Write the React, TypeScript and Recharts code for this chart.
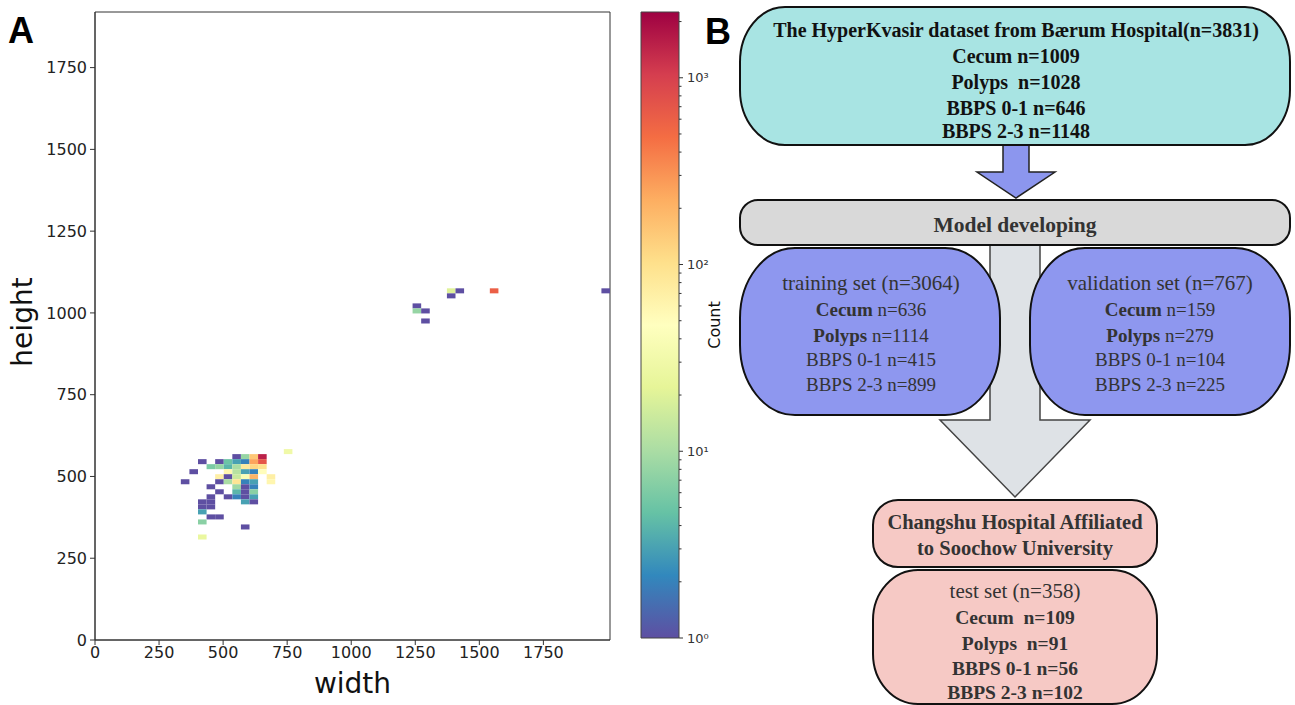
import React from 'react';
import { ScatterChart, Scatter, XAxis, YAxis, BarChart, Bar, ReferenceArea } from 'recharts';

const X_TICKS = [0, 250, 500, 750, 1000, 1250, 1500, 1750];
const Y_TICKS = [0, 250, 500, 750, 1000, 1250, 1500, 1750];
const X_MAX = 2010;
const Y_MAX = 1920;
const BIN_W = 33.5;
const BIN_H = 15.36;
const COUNT_MAX = 2250;

// hist2d cells: bin column, bin row, count
const cellCol = [
  41, 42, 41, 46, 59, 37, 37, 38, 38,
  22, 12, 11, 10,
  16, 17, 18, 19,
  14, 15, 16, 17, 18, 19,
  13, 14, 15, 16, 17, 18, 19,
  15, 16, 17, 18, 19,
  14, 15, 16, 17, 18, 20,
  14, 15, 16, 17, 18, 20,
  13, 16, 17, 18,
  14, 16, 17, 18,
  13, 15, 16, 17, 18,
  12, 13, 17, 18,
  12, 13, 12, 13, 14, 12, 17, 12,
];
const cellRow = [
  69, 69, 68, 69, 69, 66, 65, 65, 63,
  37, 35, 33, 31,
  36, 36, 36, 36,
  35, 35, 35, 35, 35, 35,
  34, 34, 34, 34, 34, 34, 34,
  33, 33, 33, 33, 33,
  32, 32, 32, 32, 32, 32,
  31, 31, 31, 31, 31, 31,
  30, 30, 30, 30,
  29, 29, 29, 29,
  28, 28, 28, 28, 28,
  27, 27, 27, 27,
  26, 26, 25, 24, 24, 23, 22, 20,
];
const cellCount = [
  20, 1, 1, 600, 1, 1, 8, 1, 1,
  30, 1, 1, 1,
  1, 8, 150, 1500,
  1, 5, 3, 2, 250, 700,
  6, 8, 4, 10, 80, 120, 100,
  60, 12, 3, 2, 50,
  70, 1, 15, 40, 200, 70,
  1, 10, 90, 2, 3, 60,
  1, 9, 1, 2,
  1, 4, 1, 7,
  1, 1, 2, 1, 3,
  1, 1, 3, 1,
  1, 1, 3, 1, 1, 7, 1, 25,
];

// colour bar, in log10(count) units
const CB_TOP = Math.log10(COUNT_MAX);
const CB_MAJOR_COUNTS = [1, 10, 100, 1000];
const CB_MINOR_COUNTS = [2, 3, 4, 5, 6, 7, 8, 9, 20, 30, 40, 50, 60, 70, 80, 90, 200, 300, 400, 500, 600, 700, 800, 900, 2000];
const CB_TICKS = [...CB_MAJOR_COUNTS, ...CB_MINOR_COUNTS].map((c) => Math.log10(c)).sort((a, b) => a - b);
const SUP = ['⁰', '¹', '²', '³'];
const cbData = [{ name: 'Count', v: CB_TOP }];

const SPECTRAL_R = ['#5e4fa2', '#3288bd', '#66c2a5', '#abdda4', '#e6f598', '#ffffbf', '#fee08b', '#fdae61', '#f46d43', '#d53e4f', '#9e0142'];

const cells = cellCol.map((c, i) => ({
  w: (c + 0.5) * BIN_W,
  h: (cellRow[i] + 0.5) * BIN_H,
  count: cellCount[i],
}));

function hexToRgb(h: string) {
  return [parseInt(h.slice(1, 3), 16), parseInt(h.slice(3, 5), 16), parseInt(h.slice(5, 7), 16)];
}

function colorFor(count: number) {
  const t = Math.min(1, Math.log10(count) / CB_TOP);
  const p = t * (SPECTRAL_R.length - 1);
  const i = Math.min(SPECTRAL_R.length - 2, Math.floor(p));
  const f = p - i;
  const a = hexToRgb(SPECTRAL_R[i]);
  const b = hexToRgb(SPECTRAL_R[i + 1]);
  const m = a.map((v, k) => Math.round(v + (b[k] - v) * f));
  return `rgb(${m[0]},${m[1]},${m[2]})`;
}

const PLOT_W = 515;
const PLOT_H = 628;
const CELL_PX_W = (BIN_W * PLOT_W) / X_MAX;
const CELL_PX_H = (BIN_H * PLOT_H) / Y_MAX;

const SANS = 'DejaVu Sans, sans-serif';
const SERIF = "'Liberation Serif', 'Times New Roman', serif";
const AX = '#333';

const CellShape = (p: any) => (
  <rect
    x={p.cx - CELL_PX_W / 2}
    y={p.cy - CELL_PX_H / 2}
    width={CELL_PX_W}
    height={CELL_PX_H}
    fill={colorFor(p.payload.count)}
  />
);

// log colour bar tick: long mark + label on decades, short mark otherwise
const CbTick = (p: any) => {
  const v = p.payload.value;
  const major = Math.abs(v - Math.round(v)) < 1e-6;
  return (
    <g>
      <line x1={p.x} x2={p.x + (major ? 4 : 2.5)} y1={p.y} y2={p.y} stroke={AX} strokeWidth={1} />
      {major && (
        <text x={p.x + 8} y={p.y} dominantBaseline="central" fontSize={13} fill="#333" fontFamily={SANS}>
          {`10${SUP[Math.round(v)]}`}
        </text>
      )}
    </g>
  );
};

function Heatmap() {
  return (
    <ScatterChart width={630} height={705} margin={{ top: 12, right: 20, bottom: 0, left: 0 }}>
      <XAxis
        dataKey="w"
        type="number"
        domain={[0, X_MAX]}
        ticks={X_TICKS}
        height={65}
        tickSize={5}
        tickMargin={2}
        tick={{ fontSize: 16, fill: '#222', fontFamily: SANS }}
        stroke={AX}
        label={{ value: 'width', position: 'insideBottom', offset: 12, fontSize: 28, fill: '#111', fontFamily: SANS }}
      />
      <YAxis
        dataKey="h"
        type="number"
        domain={[0, Y_MAX]}
        ticks={Y_TICKS}
        width={95}
        tickSize={5}
        tickMargin={3}
        tick={{ fontSize: 16, fill: '#222', fontFamily: SANS }}
        stroke={AX}
        label={{
          content: () => (
            <text x={22} y={322} transform="rotate(-90 22 322)" textAnchor="middle" dominantBaseline="central" fontSize={28} fill="#111" fontFamily={SANS}>
              height
            </text>
          ),
        }}
      />
      <Scatter data={cells} shape={CellShape} isAnimationActive={false} />
      <ReferenceArea x1={0} x2={X_MAX} y1={0} y2={Y_MAX} fill="none" fillOpacity={0} stroke={AX} strokeWidth={1} />
    </ScatterChart>
  );
}

function ColorBar() {
  return (
    <BarChart width={110} height={705} data={cbData} margin={{ top: 12, right: 0, bottom: 67, left: 11 }} barCategoryGap={0}>
      <defs>
        <linearGradient id="spectral" x1="0" y1="1" x2="0" y2="0">
          {SPECTRAL_R.map((c, i) => (
            <stop key={c} offset={`${(i / (SPECTRAL_R.length - 1)) * 100}%`} stopColor={c} />
          ))}
        </linearGradient>
      </defs>
      <XAxis dataKey="name" hide />
      <YAxis
        orientation="right"
        type="number"
        domain={[0, CB_TOP]}
        ticks={CB_TICKS}
        interval={0}
        width={61}
        tickSize={0}
        tickMargin={0}
        tickLine={false}
        axisLine={false}
        tick={CbTick}
        label={{
          content: () => (
            <text x={84} y={325} transform="rotate(-90 84 325)" textAnchor="middle" dominantBaseline="central" fontSize={16} fill="#111" fontFamily={SANS}>
              Count
            </text>
          ),
        }}
      />
      <Bar dataKey="v" fill="url(#spectral)" stroke="#444" strokeWidth={1} isAnimationActive={false} />
    </BarChart>
  );
}

type Seg = { t: string; b?: boolean; s?: number };

const topLines: Seg[][] = [
  [{ t: 'The HyperKvasir dataset from Bærum Hospital(n=3831)', b: true }],
  [{ t: 'Cecum n=1009', b: true }],
  [{ t: 'Polyps  n=1028', b: true }],
  [{ t: 'BBPS 0-1 n=646', b: true }],
  [{ t: 'BBPS 2-3 n=1148', b: true }],
];
const trainLines: Seg[][] = [
  [{ t: 'training set (n=3064)', s: 21 }],
  [{ t: 'Cecum', b: true }, { t: ' n=636' }],
  [{ t: 'Polyps', b: true }, { t: ' n=1114' }],
  [{ t: 'BBPS 0-1 n=415' }],
  [{ t: 'BBPS 2-3 n=899' }],
];
const valLines: Seg[][] = [
  [{ t: 'validation set (n=767)', s: 21 }],
  [{ t: 'Cecum', b: true }, { t: ' n=159' }],
  [{ t: 'Polyps', b: true }, { t: ' n=279' }],
  [{ t: 'BBPS 0-1 n=104' }],
  [{ t: 'BBPS 2-3 n=225' }],
];
const hospLines: Seg[][] = [
  [{ t: 'Changshu Hospital Affiliated', b: true }],
  [{ t: 'to Soochow University', b: true }],
];
const testLines: Seg[][] = [
  [{ t: 'test set (n=358)', s: 21 }],
  [{ t: 'Cecum  n=109', b: true }],
  [{ t: 'Polyps  n=91', b: true }],
  [{ t: 'BBPS 0-1 n=56', b: true }],
  [{ t: 'BBPS 2-3 n=102', b: true }],
];

function Lines({ lines, cx, ys, color, size }: { lines: Seg[][]; cx: number; ys: number[]; color: string; size: number }) {
  return (
    <>
      {lines.map((segs, i) => {
        const fs = segs[0].s ?? size;
        return (
          <text key={i} x={cx} y={ys[i] + fs * 0.35} textAnchor="middle" fontSize={fs} fill={color} fontFamily={SERIF} style={{ whiteSpace: 'pre' }}>
            {segs.map((s, k) => (
              <tspan key={k} fontWeight={s.b ? 'bold' : 'normal'}>
                {s.t}
              </tspan>
            ))}
          </text>
        );
      })}
    </>
  );
}

function Flow() {
  return (
    <svg width={1295} height={705} style={{ position: 'absolute', left: 0, top: 0 }}>
      <text x={8} y={43} fontSize={36} fontWeight="bold" fontFamily="'Liberation Sans', Arial, sans-serif" fill="#000">A</text>
      <text x={705} y={44} fontSize={36} fontWeight="bold" fontFamily="'Liberation Sans', Arial, sans-serif" fill="#000">B</text>

      <polygon points="1003,140 1029,140 1029,172 1055,172 1016,198 977,172 1003,172" fill="#8c96ee" stroke="#222" strokeWidth={1.5} />
      <rect x={740} y={7} width={550} height={138} rx={45} ry={55} fill="#a8e4e3" stroke="#111" strokeWidth={2} />
      <Lines lines={topLines} cx={1016} ys={[30, 56, 82, 108, 131]} color="#111" size={20} />

      <polygon points="990,240 1040,240 1040,420 1090,420 1015,497 940,420 990,420" fill="#dee2e6" stroke="#444" strokeWidth={1.5} />
      <rect x={740} y={200} width={550} height={45} rx={18} ry={18} fill="#d9d9d9" stroke="#111" strokeWidth={2} />
      <Lines lines={[[{ t: 'Model developing', b: true }]]} cx={1015} ys={[224]} color="#333" size={21.5} />

      <rect x={740} y={248} width={260} height={167} rx={55} ry={70} fill="#8e97ef" stroke="#111" strokeWidth={2} />
      <Lines lines={trainLines} cx={871} ys={[283, 309, 335, 359, 384]} color="#333" size={19} />
      <rect x={1030} y={248} width={260} height={167} rx={55} ry={70} fill="#8e97ef" stroke="#111" strokeWidth={2} />
      <Lines lines={valLines} cx={1160} ys={[283, 309, 335, 359, 384]} color="#333" size={19} />

      <rect x={873} y={500} width={284} height={67} rx={25} ry={25} fill="#f6c9c5" stroke="#111" strokeWidth={2} />
      <Lines lines={hospLines} cx={1015} ys={[522, 548]} color="#333" size={20.5} />
      <rect x={873} y={570} width={284} height={134} rx={45} ry={50} fill="#f6c9c5" stroke="#111" strokeWidth={2} />
      <Lines lines={testLines} cx={1015} ys={[591, 617, 643, 668, 692]} color="#333" size={19.5} />
    </svg>
  );
}

export default function App() {
  return (
    <div style={{ position: 'absolute', left: 0, top: 0, width: 1295, height: 705, background: '#fff', overflow: 'hidden' }}>
      <div style={{ position: 'absolute', left: 0, top: 0 }}>
        <Heatmap />
      </div>
      <div style={{ position: 'absolute', left: 630, top: 0 }}>
        <ColorBar />
      </div>
      <Flow />
    </div>
  );
}
